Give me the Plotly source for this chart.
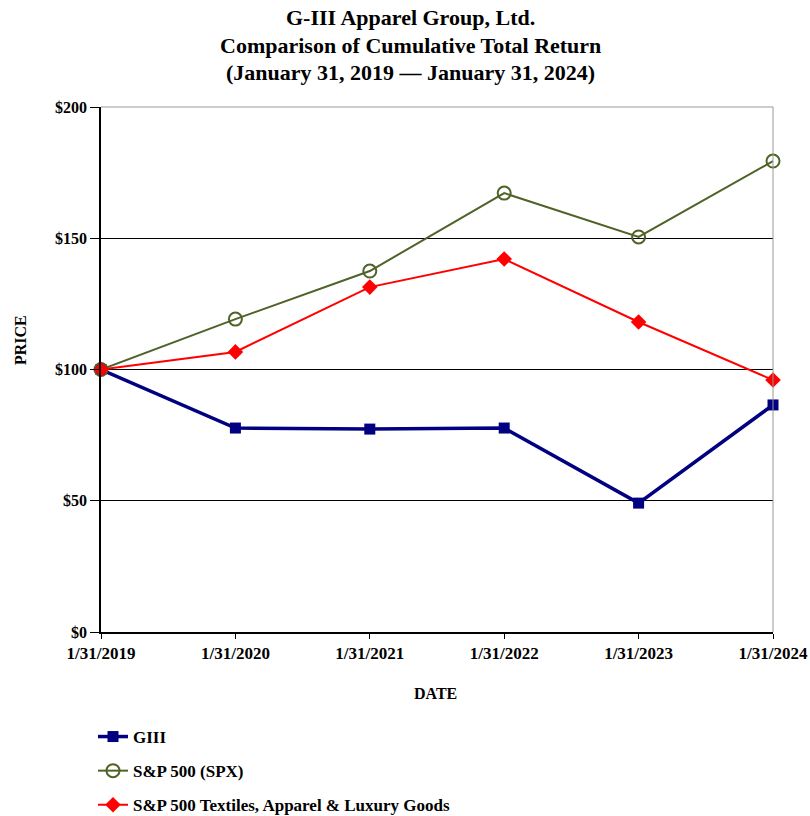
import plotly.graph_objects as go

dates = ["1/31/2019", "1/31/2020", "1/31/2021", "1/31/2022", "1/31/2023", "1/31/2024"]
giii = [100, 77.7, 77.3, 77.7, 49.1, 86.5]
spx = [100, 119.2, 137.5, 167.2, 150.5, 179.4]
textiles = [100, 106.7, 131.4, 142.1, 118.1, 96.0]
y_ticks = [0, 50, 100, 150, 200]
y_labels = ["$0", "$50", "$100", "$150", "$200"]
title_lines = ["G-III Apparel Group, Ltd.",
               "Comparison of Cumulative Total Return",
               "(January 31, 2019 \u2014 January 31, 2024)"]

FONT = "Liberation Serif"
W, H = 810, 816
PLOT_L, PLOT_R, PLOT_T, PLOT_B = 101, 773, 107, 632
ML, MT, MR, MB = PLOT_L, PLOT_T, W - PLOT_R, H - PLOT_B
PW, PH = PLOT_R - PLOT_L, PLOT_B - PLOT_T


def px_x(x):
    return (x - PLOT_L) / PW


def px_y(y):
    return (PLOT_B - y) / PH


fig = go.Figure()
fig.add_trace(go.Scatter(
    x=dates, y=giii, name="<b>GIII</b>", mode="lines+markers",
    line=dict(color="#000080", width=3.5),
    marker=dict(symbol="square", size=11, color="#000080"),
    cliponaxis=False, legendgroup="a"))
fig.add_trace(go.Scatter(
    x=dates, y=spx, name="<b>S&P 500 (SPX)</b>", mode="lines+markers",
    line=dict(color="#4F6228", width=2),
    marker=dict(symbol="circle-open", size=13, color="#4F6228", line=dict(width=2)),
    cliponaxis=False, legendgroup="b"))
fig.add_trace(go.Scatter(
    x=dates, y=textiles, name="<b>S&P 500 Textiles, Apparel & Luxury Goods</b>", mode="lines+markers",
    line=dict(color="#FF0000", width=2),
    marker=dict(symbol="diamond", size=12, color="#FF0000"),
    cliponaxis=False, legendgroup="c"))

annotations = []
for t, yc in zip(title_lines, [18, 45, 73]):
    annotations.append(dict(
        text="<b>" + t + "</b>", xref="paper", yref="paper",
        x=px_x(410), y=px_y(yc), xanchor="center", yanchor="middle",
        showarrow=False, font=dict(family=FONT, size=22, color="black")))
annotations.append(dict(
    text="<b>DATE</b>", xref="paper", yref="paper", x=px_x(435), y=px_y(693),
    xanchor="center", yanchor="middle", showarrow=False,
    font=dict(family=FONT, size=16, color="black")))
annotations.append(dict(
    text="<b>PRICE</b>", xref="paper", yref="paper", x=px_x(20), y=px_y(340),
    xanchor="center", yanchor="middle", showarrow=False, textangle=-90,
    font=dict(family=FONT, size=16, color="black")))

fig.update_layout(
    width=W, height=H,
    margin=dict(l=ML, r=MR, t=MT, b=MB, autoexpand=False),
    paper_bgcolor="white", plot_bgcolor="white",
    font=dict(family=FONT, color="black", size=16),
    showlegend=True,
    legend=dict(
        x=px_x(93), xanchor="left", y=px_y(719), yanchor="top",
        orientation="v", tracegroupgap=9,
        font=dict(family=FONT, size=17, color="black"),
        bgcolor="rgba(0,0,0,0)"),
    annotations=annotations,
    xaxis=dict(
        type="category", range=[0, 5],
        showgrid=False, showline=True, linecolor="black", linewidth=1.5,
        ticks="outside", ticklen=5, tickcolor="black",
        tickfont=dict(family=FONT, size=17, color="black"),
        tickprefix="<b>", ticksuffix="</b>",
        zeroline=False, automargin=False),
    yaxis=dict(
        range=[0, 200], tickvals=y_ticks, ticktext=["<b>" + t + "</b>" for t in y_labels],
        showgrid=True, gridcolor="black", gridwidth=1,
        showline=True, linecolor="black", linewidth=1.5,
        ticks="outside", ticklen=9, tickcolor="black",
        tickfont=dict(family=FONT, size=16, color="black"),
        zeroline=False, automargin=False),
)

# plot frame: top and right border in gray
fig.add_shape(type="line", xref="paper", yref="paper", x0=0, x1=1, y0=1, y1=1,
              line=dict(color="#999999", width=1))
fig.add_shape(type="line", xref="paper", yref="paper", x0=1, x1=1, y0=0, y1=1,
              line=dict(color="#999999", width=1))

fig.write_html("out.html",
               config={"displayModeBar": False},
               post_script="document.body.style.margin='0';document.body.style.overflow='hidden';")
